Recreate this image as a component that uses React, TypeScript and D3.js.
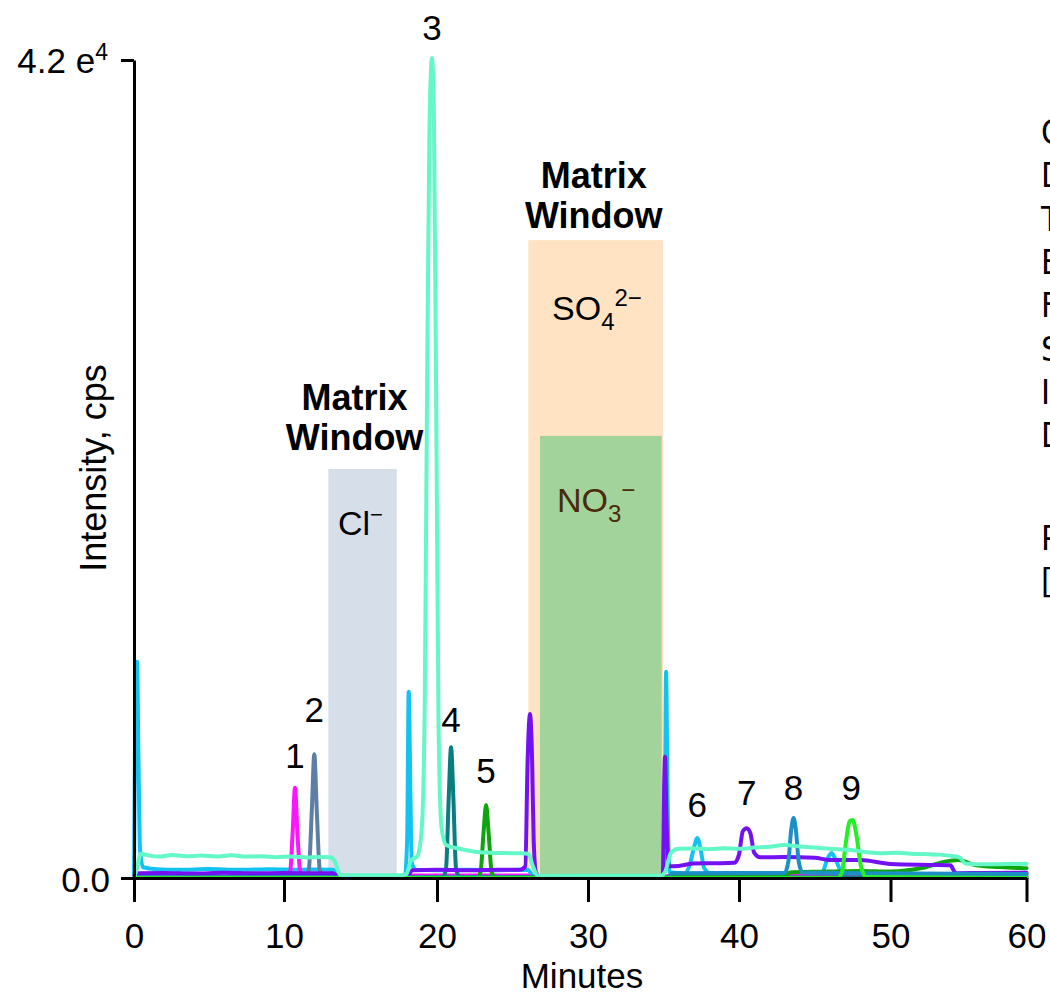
import { useRef, useEffect } from "react";
import * as d3 from "d3";

type Pt = [number, number];

// minutes, cps
const xTicks = [0, 10, 20, 30, 40, 50, 60];
const yMax = 42000;

const cyanTrace: Pt[] = [
  [0, 200], [0.1, 10500], [0.2, 11100], [0.3, 6000], [0.4, 1500], [0.6, 550], [1.5, 450], [3, 420],
  [5, 460], [7, 420], [9, 450], [11, 430], [12.5, 440], [13.2, 420], [13.6, 80], [17.9, 80],
  [18.05, 2000], [18.15, 9560], [18.25, 5000], [18.35, 800], [18.6, 420], [20, 400], [22, 420],
  [24, 400], [26, 420], [26.4, 80], [35.0, 80], [35.1, 4000], [35.17, 10590], [35.27, 4000],
  [35.4, 300], [36.4, 250], [36.75, 700], [37.0, 1500], [37.24, 2050], [37.45, 1500], [37.7, 500],
  [38.1, 250], [42, 250], [45.5, 300], [45.8, 900], [46.1, 1280], [46.4, 900], [46.8, 300],
  [50, 220], [55, 200], [60, 180],
];

const magentaTrace: Pt[] = [
  [0, 60], [5, 80], [10.2, 100], [10.4, 300], [10.57, 2400], [10.72, 4640], [10.87, 2400],
  [11.05, 400], [11.25, 120], [13, 110], [13.5, 40], [17.8, 40], [18.3, 130], [26, 130],
  [26.4, 40], [35, 40], [35.4, 120], [60, 110],
];

const slateTrace: Pt[] = [
  [0, 40], [11.4, 60], [11.62, 400], [11.82, 3500], [11.98, 6350], [12.14, 3500], [12.34, 400],
  [12.6, 80], [13.5, 30], [60, 30],
];

const tealTrace: Pt[] = [
  [0, 20], [20.4, 40], [20.6, 500], [20.78, 4200], [20.93, 6710], [21.08, 4200], [21.26, 500],
  [21.5, 40], [60, 20],
];

const greenTrace: Pt[] = [
  [0, 0], [22.65, 20], [22.88, 300], [23.08, 2300], [23.25, 3750], [23.42, 2300], [23.62, 300],
  [23.85, 30], [42.5, 40], [43.5, 300], [46, 330], [48, 360], [50, 330], [52.3, 510], [54, 840],
  [55, 920], [56.2, 670], [58, 560], [59.5, 510], [60, 500],
];

const purpleTrace: Pt[] = [
  [0, 100], [0.3, 240], [2, 260], [4, 230], [6, 270], [8, 240], [10, 260], [12, 240], [13.2, 250],
  [13.6, 50], [18.0, 50], [18.4, 400], [20, 420], [22, 400], [24, 430], [25.5, 420], [25.85, 600],
  [26.0, 6000], [26.16, 8420], [26.3, 6000], [26.4, 2000], [26.55, 300], [26.8, 60], [34.95, 60],
  [35.05, 5000], [35.1, 6230], [35.2, 3000], [35.35, 600], [36, 620], [37, 750], [38.5, 760],
  [39.7, 780], [40.0, 1200], [40.25, 2400], [40.51, 2560], [40.75, 2300], [41.0, 1300],
  [41.4, 1060], [43, 1080], [45, 1040], [46, 920], [48, 920], [50, 720], [53, 670], [54.4, 650],
  [54.8, 250], [57, 260], [60, 270],
];

const steelTrace: Pt[] = [
  [0, 30], [35.3, 30], [35.6, 250], [43.0, 260], [43.25, 800], [43.45, 2500], [43.6, 3080],
  [43.75, 2500], [43.95, 800], [44.2, 280], [48, 250], [60, 200],
];

const limeTrace: Pt[] = [
  [0, 0], [46.5, 0], [46.8, 300], [47.05, 1800], [47.3, 2900], [47.5, 2980], [47.75, 2200],
  [48.05, 600], [48.4, 50], [60, 0],
];

const aquaTrace: Pt[] = [
  [0, 0], [0.2, 500], [0.45, 1250], [1, 1150], [1.8, 1100], [2.5, 1180], [3.5, 1120], [4.5, 1150],
  [5.5, 1100], [6.5, 1170], [7.5, 1100], [8.5, 1120], [9.5, 1070], [10.5, 1100], [11.5, 1050],
  [12.3, 1080], [13.0, 1060], [13.3, 900], [13.7, 150], [17.6, 140], [18.0, 200], [18.3, 900],
  [18.7, 1100], [19.0, 2500], [19.2, 9000], [19.35, 25000], [19.5, 38000], [19.67, 42100],
  [19.8, 39000], [19.95, 24000], [20.1, 8000], [20.3, 2600], [20.6, 1700], [21.5, 1500],
  [22.5, 1350], [23.5, 1300], [24.5, 1280], [25.5, 1270], [26.05, 1250], [26.35, 600],
  [26.7, 100], [30, 120], [34.8, 110], [35.1, 300], [35.5, 1300], [36, 1500], [37, 1520],
  [38, 1480], [39, 1530], [40, 1500], [41, 1560], [42, 1600], [43, 1690], [44, 1620], [45, 1560],
  [46, 1500], [47.4, 1440], [48.5, 1320], [49.3, 1270], [50.5, 1300], [51.5, 1250], [52.5, 1230],
  [53.5, 1200], [54.5, 1130], [55.1, 1050], [55.5, 750], [57, 700], [58.5, 720], [60, 730],
];

// matrix diversion windows
const windowIons = ["Cl", "SO4", "NO3"];
const windowStarts = [12.9, 26.05, 26.82];
const windowEnds = [17.37, 34.97, 34.88];
const windowTops = [21000, 32750, 22700];

// numbered peaks
const peakNumbers = ["1", "2", "3", "4", "5", "6", "7", "8", "9"];
const peakTimes = [10.72, 11.98, 19.67, 20.93, 23.25, 37.24, 40.51, 43.6, 47.4];
const peakLabelLevels = [5650, 8010, 43020, 7500, 4880, 3130, 3750, 4000, 4000];

const conditions = [
  "Column: Dionex IonPac AS24",
  "Dimensions: 2 × 250 mm",
  "Temperature: 15 °C",
  "Eluent: KOH gradient",
  "Flow Rate: 0.3 mL/min",
  "Suppressor: ASRS 300",
  "Inj. Volume: 100 µL",
  "Detection: MS/MS",
  "",
  "Peaks: HAAs",
  "[1–9]",
];

const traces = [
  { color: "#12c3f2", points: cyanTrace },
  { color: "#ff14ff", points: magentaTrace },
  { color: "#5d7fa6", points: slateTrace },
  { color: "#0a7d80", points: tealTrace },
  { color: "#0ea40e", points: greenTrace },
  { color: "#7311f2", points: purpleTrace },
  { color: "#1c90c6", points: steelTrace },
  { color: "#22f022", points: limeTrace },
  { color: "#64f7c8", points: aquaTrace },
];

const font = "'Liberation Sans', Arial, Helvetica, sans-serif";

const Chromatogram = ({ width = 1050, height = 996 }: { width?: number; height?: number }) => {
  const ref = useRef<SVGSVGElement>(null);

  useEffect(() => {
    if (!ref.current) return;
    const svg = d3.select(ref.current);
    svg.selectAll("*").remove();

    // tick spacing in the original is not perfectly even
    const x = d3.scaleLinear().domain(xTicks).range([134, 284, 437, 588, 739, 890.5, 1026.5]);
    const y = d3.scaleLinear().domain([0, yMax]).range([878, 60]);

    svg.attr("width", width).attr("height", height).style("font-family", font);
    svg.append("rect").attr("width", width).attr("height", height).attr("fill", "#fff");

    // windows
    const fills = ["#d6deea", "#ffe3c3", "#a1d39a"];
    windowIons.forEach((ion, i) => {
      svg
        .append("rect")
        .attr("x", x(windowStarts[i]))
        .attr("y", y(windowTops[i]))
        .attr("width", x(windowEnds[i]) - x(windowStarts[i]))
        .attr("height", y(0) - y(windowTops[i]))
        .attr("fill", fills[i]);
    });

    // traces
    const line = d3
      .line<Pt>()
      .x((d) => x(d[0]))
      .y((d) => y(d[1]))
      .curve(d3.curveMonotoneX);

    svg
      .append("g")
      .selectAll("path")
      .data(traces)
      .enter()
      .append("path")
      .attr("d", (d) => line(d.points))
      .attr("fill", "none")
      .attr("stroke", (d) => d.color)
      .attr("stroke-width", 4)
      .attr("stroke-linejoin", "round")
      .attr("stroke-linecap", "round");

    // x axis
    const xAxis = svg
      .append("g")
      .attr("transform", `translate(0,${y(0)})`)
      .call(
        d3.axisBottom(x).tickValues(xTicks).tickSize(24).tickSizeOuter(0).tickPadding(21).tickFormat(d3.format("d"))
      );
    xAxis.select(".domain").attr("stroke", "#000").attr("stroke-width", 3);
    xAxis.selectAll(".tick line").attr("stroke", "#000").attr("stroke-width", 3);
    xAxis.selectAll(".tick text").attr("fill", "#000").style("font-size", "35px").style("font-family", font);

    // y axis
    const yAxis = svg
      .append("g")
      .attr("transform", `translate(${x(0)},0)`)
      .call(d3.axisLeft(y).tickValues([0, yMax]).tickSize(13).tickSizeOuter(0).tickFormat(() => ""));
    yAxis.select(".domain").attr("stroke", "#000").attr("stroke-width", 3);
    yAxis.selectAll(".tick line").attr("stroke", "#000").attr("stroke-width", 3);

    svg
      .append("text")
      .attr("x", 110)
      .attr("y", y(0) + 14)
      .attr("text-anchor", "end")
      .style("font-size", "35px")
      .text("0.0");

    const top = svg
      .append("text")
      .attr("x", 108)
      .attr("y", y(yMax) + 13)
      .attr("text-anchor", "end")
      .style("font-size", "35px");
    top.append("tspan").text("4.2 e");
    top.append("tspan").attr("dy", -13).style("font-size", "23px").text("4");

    svg
      .append("text")
      .attr("text-anchor", "middle")
      .attr("x", 582)
      .attr("y", 988)
      .style("font-size", "35px")
      .text("Minutes");

    svg
      .append("text")
      .attr("text-anchor", "middle")
      .attr("transform", "translate(106,468) rotate(-90)")
      .style("font-size", "36px")
      .text("Intensity, cps");

    // matrix window headings
    const headingWindows = [0, 1];
    const headingLift = [59, 52];
    headingWindows.forEach((w, k) => {
      const cx = (x(windowStarts[w]) + x(windowEnds[w])) / 2 - (k === 0 ? 8 : 2);
      const t = svg
        .append("text")
        .attr("text-anchor", "middle")
        .style("font-size", "36px")
        .style("font-weight", "bold");
      t.append("tspan").attr("x", cx).attr("y", y(windowTops[w]) - headingLift[k]).text("Matrix");
      t.append("tspan").attr("x", cx).attr("y", y(windowTops[w]) - headingLift[k] + 40).text("Window");
    });

    // ion labels
    const cl = svg
      .append("text")
      .attr("x", 338)
      .attr("y", y(windowTops[0]) + 66)
      .style("font-size", "34px");
    cl.append("tspan").text("Cl");
    cl.append("tspan").attr("dy", -13).style("font-size", "22px").text("−");

    const so = svg
      .append("text")
      .attr("x", 552)
      .attr("y", y(windowTops[1]) + 80)
      .style("font-size", "34px");
    so.append("tspan").text("SO");
    so.append("tspan").attr("dy", 10).style("font-size", "24px").text("4");
    so.append("tspan").attr("dy", -24).style("font-size", "24px").text("2−");

    const no = svg
      .append("text")
      .attr("x", 557)
      .attr("y", y(windowTops[2]) + 76)
      .attr("fill", "#4a2a0a")
      .style("font-size", "34px");
    no.append("tspan").text("NO");
    no.append("tspan").attr("dy", 10).style("font-size", "24px").text("3");
    no.append("tspan").attr("dy", -24).style("font-size", "24px").text("−");

    // peak numbers
    svg
      .append("g")
      .selectAll("text")
      .data(peakNumbers)
      .enter()
      .append("text")
      .attr("x", (_, i) => x(peakTimes[i]))
      .attr("y", (_, i) => y(peakLabelLevels[i]))
      .attr("text-anchor", "middle")
      .style("font-size", "35px")
      .text((d) => d);

    // conditions block, cut off by the right edge as in the source figure
    svg
      .append("g")
      .selectAll("text")
      .data(conditions)
      .enter()
      .append("text")
      .attr("x", 1041)
      .attr("y", (_, i) => 144 + i * 43.3 + (i > 8 ? 16 : 0))
      .style("font-size", "34px")
      .style("font-family", "'DejaVu Sans Condensed', 'Liberation Sans', sans-serif")
      .text((d) => d);
  }, [width, height]);

  return (
    <svg
      ref={ref}
      style={{ position: "absolute", left: 0, top: 0, display: "block", overflow: "hidden" }}
    />
  );
};

export default function App() {
  return <Chromatogram />;
}
